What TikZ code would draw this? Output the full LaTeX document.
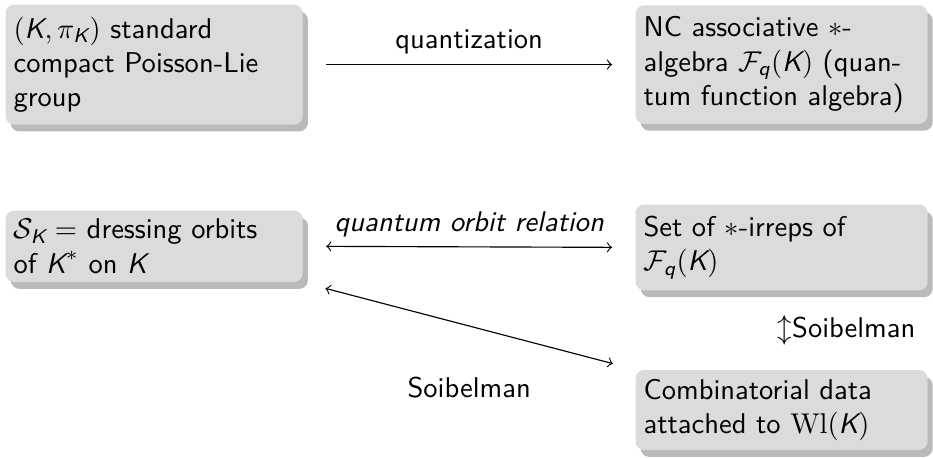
\documentclass[tikz,border=0pt]{standalone}
\usepackage{amsmath}
\usetikzlibrary{shadows,calc}
\renewcommand{\familydefault}{\sfdefault}
\newcommand{\sfsl}[1]{\text{\normalfont\sffamily\slshape #1}}
\newcommand{\grp}{\sfsl{K}}
\begin{document}
\begin{tikzpicture}[
  block/.style={fill=black!14,rounded corners=3pt,align=left,inner xsep=2.8pt,inner ysep=0pt,
    drop shadow={shadow xshift=1.8pt,shadow yshift=-2.4pt,fill=black!27,opacity=1}},
  lblock/.style={block,anchor=west,text width=98.4pt},
  rblock/.style={block,anchor=west,text width=96.6pt},
  rel/.style={shorten <=8pt,shorten >=8pt}]
  \useasboundingbox (0,0) rectangle (326.55pt,-160.3pt);
  % classical side
  \node[lblock,minimum height=42pt] (pl) at (1.75pt,-22.6pt)
    {$(\grp,\pi_{\grp})$ standard\\compact Poisson-Lie\\group};
  \node[lblock,minimum height=25pt] (orb) at (1.75pt,-86.2pt)
    {$\mathcal{S}_{\grp} =$ dressing orbits\\of $\grp^*$ on $\grp$};
  % quantum side
  \node[rblock,minimum height=41.5pt] (fq) at (222.25pt,-22.6pt)
    {NC associative $*$-\\algebra $\mathcal{F}_{\sfsl{q}}(\grp)$ (quan-\\tum function algebra)};
  \node[rblock,minimum height=30pt] (irr) at (222.25pt,-86.6pt)
    {Set of $*$-irreps of\\$\mathcal{F}_{\sfsl{q}}(\grp)$};
  \node[rblock,minimum height=28pt] (comb) at (222.25pt,-143.5pt)
    {Combinatorial data\\attached to $\mathrm{Wl}(\grp)$};
  % relations
  \draw[rel,->] (pl.east) -- node[above]{quantization} (fq.west);
  \draw[rel,<->] (orb.east) -- node[above]{\itshape quantum orbit relation} (irr.west);
  \draw[rel,<->] (orb.south east) -- node[below=14.5pt]{Soibelman} (comb.north west);
  \node[anchor=west,inner sep=0pt,xshift=-1.5pt] (soib) at ($(irr.south)!.5!(comb.north)$)
    {$\updownarrow$Soibelman};
\end{tikzpicture}
\end{document}
